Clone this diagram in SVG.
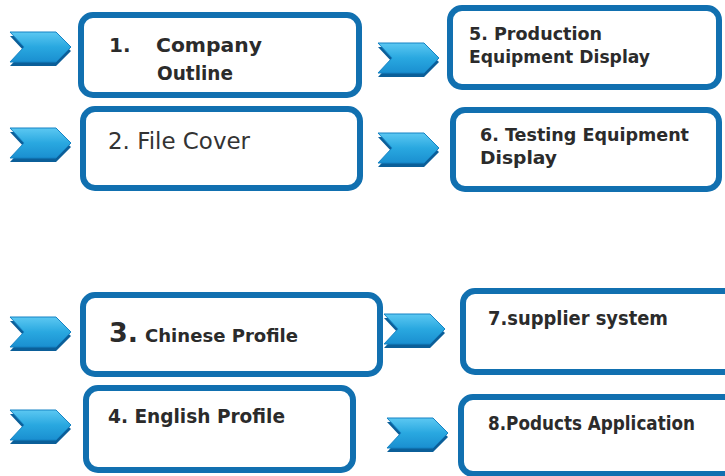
<svg xmlns="http://www.w3.org/2000/svg" width="725" height="476" viewBox="0 0 725 476">
  <defs>
    <linearGradient id="chevFill" x1="0" y1="0" x2="0" y2="1">
      <stop offset="0" stop-color="#5cc8f2"/>
      <stop offset="0.5" stop-color="#29a8e0"/>
      <stop offset="1" stop-color="#1a8fd0"/>
    </linearGradient>
    <g id="chev">
      <path d="M0,4 L46,4 L61,19 L46,34 L0,34 L14,19 Z" fill="#0b5f99"/>
      <path d="M0,0 L46,0 L61,15 L46,30 L0,30 L14,15 Z" fill="url(#chevFill)" stroke="#1583c4" stroke-width="1"/>
    </g>
  </defs>
  <style>
    .box { fill: #ffffff; stroke: #1170b0; stroke-width: 6; }
    .t { font-family: "DejaVu Sans", Verdana, sans-serif; font-weight: bold; fill: #2b2b2b; }
    .n { font-family: "DejaVu Sans", Verdana, sans-serif; font-weight: normal; fill: #333333; }
  </style>
  <rect width="725" height="476" fill="#ffffff"/>

  <g id="connectors">
    <use href="#chev" x="10" y="32"/>
    <use href="#chev" x="10" y="128"/>
    <use href="#chev" x="378" y="43"/>
    <use href="#chev" x="378" y="133"/>
    <use href="#chev" x="10" y="317"/>
    <use href="#chev" x="10" y="410"/>
    <use href="#chev" x="384" y="314"/>
    <use href="#chev" x="387" y="418"/>
  </g>

  <g id="node1">
    <rect class="box" x="81" y="15" width="278" height="80" rx="12"/>
    <text class="t" x="109" y="52" font-size="20">1.</text>
    <text class="t" x="156" y="52" font-size="20" textLength="106" lengthAdjust="spacingAndGlyphs">Company</text>
    <text class="t" x="157" y="80" font-size="20" textLength="76" lengthAdjust="spacingAndGlyphs">Outline</text>
  </g>
  <g id="node2">
    <rect class="box" x="83" y="109" width="277" height="79" rx="12"/>
    <text class="n" x="108" y="149" font-size="23" textLength="142" lengthAdjust="spacingAndGlyphs">2. File Cover</text>
  </g>
  <g id="node5">
    <rect class="box" x="450" y="8" width="269" height="79" rx="12"/>
    <text class="t" x="469" y="40" font-size="17" textLength="133" lengthAdjust="spacingAndGlyphs">5. Production</text>
    <text class="t" x="469" y="63" font-size="17" textLength="181" lengthAdjust="spacingAndGlyphs">Equipment Display</text>
  </g>
  <g id="node6">
    <rect class="box" x="453" y="110" width="266" height="79" rx="12"/>
    <text class="t" x="480" y="141" font-size="17" textLength="209" lengthAdjust="spacingAndGlyphs">6.  Testing Equipment</text>
    <text class="t" x="480" y="164" font-size="17" textLength="77" lengthAdjust="spacingAndGlyphs">Display</text>
  </g>
  <g id="node3">
    <rect class="box" x="83" y="295" width="297" height="79" rx="12"/>
    <text class="t" x="109" y="342" font-size="27">3.</text>
    <text class="t" x="145" y="342" font-size="18" textLength="153" lengthAdjust="spacingAndGlyphs">Chinese Profile</text>
  </g>
  <g id="node4">
    <rect class="box" x="86" y="388" width="267" height="82" rx="12"/>
    <text class="t" x="108" y="423" font-size="19" textLength="177" lengthAdjust="spacingAndGlyphs">4. English Profile</text>
  </g>
  <g id="node7">
    <rect class="box" x="463" y="291" width="280" height="81" rx="12"/>
    <text class="t" x="488" y="325" font-size="19" textLength="180" lengthAdjust="spacingAndGlyphs">7.supplier system</text>
  </g>
  <g id="node8">
    <rect class="box" x="461" y="397" width="280" height="77" rx="12"/>
    <text class="t" x="488" y="430" font-size="19" textLength="207" lengthAdjust="spacingAndGlyphs">8.Poducts Application</text>
  </g>
</svg>
